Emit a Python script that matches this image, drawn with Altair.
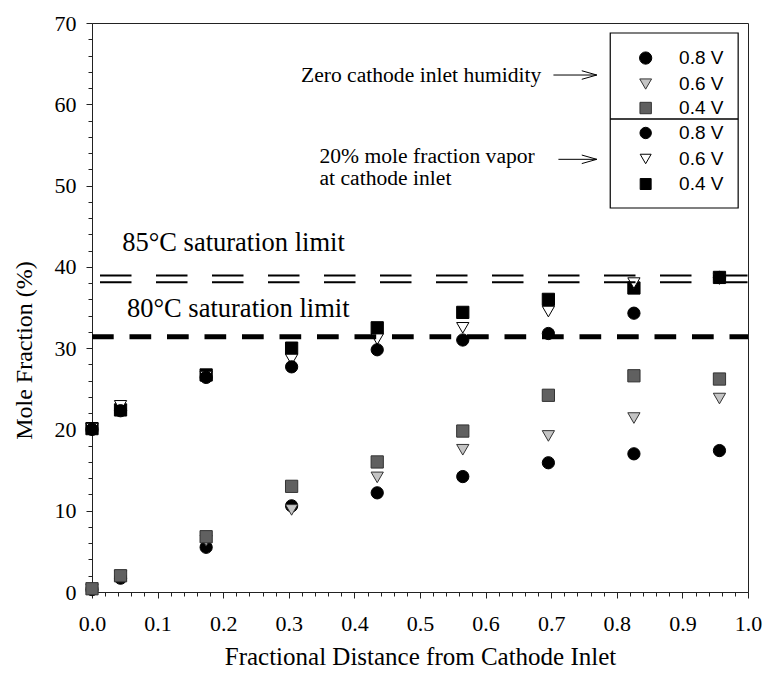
import altair as alt
import pandas as pd

# ---------------- data ----------------
x_pos = [0.0, 0.0435, 0.174, 0.3043, 0.4348, 0.5652, 0.6957, 0.8261, 0.9565]

# zero cathode inlet humidity
dry_08 = [0.3, 1.7, 5.5, 10.6, 12.2, 14.2, 15.9, 17.0, 17.4]
dry_06 = [0.3, 2.0, 6.3, 10.1, 14.1, 17.5, 19.2, 21.4, 23.8]
dry_04 = [0.4, 2.0, 6.8, 13.0, 16.0, 19.8, 24.2, 26.6, 26.2]

# 20% mole fraction vapor at cathode inlet
wet_08 = [20.0, 22.3, 26.4, 27.7, 29.8, 31.0, 31.8, 34.3, 38.7]
wet_06 = [20.1, 22.9, 26.5, 28.6, 31.1, 32.5, 34.5, 38.0, 38.5]
wet_04 = [20.1, 22.4, 26.7, 30.0, 32.5, 34.4, 36.0, 37.4, 38.7]

sat85 = [38.95, 38.1]   # double dashed line
sat80 = [31.4]

legend_labels = ["0.8 V", "0.6 V", "0.4 V", "0.8 V", "0.6 V", "0.4 V"]

y_ticks = list(range(0, 71, 2))
x_ticks = [round(i * 0.02, 2) for i in range(51)]

SERIF = "Liberation Serif"
SANS = "Liberation Sans"

xs = alt.Scale(domain=[0, 1], nice=False, zero=False)
ys = alt.Scale(domain=[0, 70], nice=False)

x_axis = alt.Axis(
    values=x_ticks,
    labelExpr="abs(datum.value*10 - round(datum.value*10)) < 0.001 ? format(datum.value, '.1f') : ''",
    tickSize={"condition": {"test": "abs(datum.value*10 - round(datum.value*10)) < 0.001", "value": 6}, "value": 4},
    title="Fractional Distance from Cathode Inlet",
    titleFont=SERIF, titleFontSize=25, titleFontWeight="normal", titleColor="black",
    titleY=72, titleBaseline="alphabetic",
    labelFont=SERIF, labelFontSize=22, labelColor="black", labelPadding=15,
    labelFlush=False, labelOverlap=False,
    grid=False, domainColor="#222", tickColor="#222",
)
y_axis = alt.Axis(
    values=y_ticks,
    labelExpr="datum.value % 10 === 0 ? datum.label : ''",
    tickSize={"condition": {"test": "datum.value % 10 === 0", "value": 6}, "value": 4},
    title="Mole Fraction (%)",
    titleFont=SERIF, titleFontSize=24, titleFontWeight="normal", titleColor="black",
    titleX=-61, titleY=327, titleBaseline="alphabetic", titleAngle=-90, titleAlign="center",
    labelFont=SERIF, labelFontSize=22, labelColor="black", labelPadding=10,
    labelFlush=False, labelOverlap=False,
    grid=False, domainColor="#222", tickColor="#222",
)


def X(f):
    return alt.X(f, type="quantitative", scale=xs, axis=x_axis)


def Y(f):
    return alt.Y(f, type="quantitative", scale=ys, axis=y_axis)


def series(vals, shape, fill, stroke, size):
    df = pd.DataFrame({"x": x_pos, "y": vals})
    return alt.Chart(df).mark_point(
        shape=shape, filled=True, fill=fill, stroke=stroke, strokeWidth=1,
        size=size, opacity=1,
    ).encode(x=X("x"), y=Y("y"))


def hline(yv, width, dash, offset):
    df = pd.DataFrame({"y": [yv], "x": [0.0], "x1": [1.0]})
    return alt.Chart(df).mark_rule(
        color="black", strokeWidth=width, strokeDash=dash, strokeDashOffset=offset
    ).encode(x=X("x"), x2="x1:Q", y=Y("y"))


layers = []
layers.append(series(dry_08, "circle", "black", "black", 150))
layers.append(series(dry_06, "triangle-down", "#c4c4c4", "#333", 150))
layers.append(series(dry_04, "square", "#606060", "#333", 150))
layers.append(series(wet_04, "square", "black", "black", 150))
layers.append(series(wet_06, "triangle-down", "white", "black", 150))
layers.append(series(wet_08, "circle", "black", "black", 150))

# saturation lines
for v in sat85:
    layers.append(hline(v, 2, [31.5, 24.5], 48))
for v in sat80:
    layers.append(hline(v, 5, [21.7, 15.8], 0))

# annotation texts
ann = pd.DataFrame({
    "x": [0.046, 0.0533],
    "y": [42.0, 33.87],
    "t": ["85°C saturation limit", "80°C saturation limit"],
})
layers.append(alt.Chart(ann).mark_text(
    font=SERIF, fontSize=26.5, align="left", baseline="alphabetic", color="black"
).encode(x=X("x"), y=Y("y"), text="t:N"))

ann2 = pd.DataFrame({
    "x": [0.3185, 0.3468, 0.3468],
    "y": [62.7, 52.74, 50.07],
    "t": ["Zero cathode inlet humidity", "20% mole fraction vapor", "at cathode inlet"],
})
layers.append(alt.Chart(ann2).mark_text(
    font=SERIF, fontSize=21.6, align="left", baseline="alphabetic", color="black"
).encode(x=X("x"), y=Y("y"), text="t:N"))

# arrows
arr = pd.DataFrame({"x": [0.7034, 0.711], "x1": [0.7695, 0.7695], "y": [63.6, 53.23]})
layers.append(alt.Chart(arr).mark_rule(color="black", strokeWidth=1).encode(
    x=X("x"), x2="x1:Q", y=Y("y")))
layers.append(alt.Chart(arr).mark_point(
    shape="M-2,-0.57L0,0L-2,0.57", filled=False, stroke="black", strokeWidth=1, size=225, opacity=1
).encode(x=X("x1"), y=Y("y")))

# legend box
box = pd.DataFrame({"x": [0.790], "x1": [0.985], "y": [47.24], "y1": [68.77]})
layers.append(alt.Chart(box).mark_rect(fill="white", stroke="black", strokeWidth=1.2).encode(
    x=X("x"), x2="x1:Q", y=Y("y"), y2="y1:Q"))
div = pd.DataFrame({"x": [0.790], "x1": [0.985], "y": [58.19]})
layers.append(alt.Chart(div).mark_rule(color="black", strokeWidth=1.5).encode(
    x=X("x"), x2="x1:Q", y=Y("y")))

leg_y = [65.69, 62.49, 59.54, 56.47, 53.27, 50.19]
leg_shape = ["circle", "triangle-down", "square", "circle", "triangle-down", "square"]
leg_fill = ["black", "#c4c4c4", "#606060", "black", "white", "black"]
leg_stroke = ["black", "#333", "#333", "black", "black", "black"]
leg_size = [150, 140, 130, 130, 120, 120]
for i in range(6):
    d = pd.DataFrame({"x": [0.844], "y": [leg_y[i]]})
    layers.append(alt.Chart(d).mark_point(
        shape=leg_shape[i], filled=True, fill=leg_fill[i], stroke=leg_stroke[i],
        strokeWidth=1, size=leg_size[i], opacity=1
    ).encode(x=X("x"), y=Y("y")))
legt = pd.DataFrame({"x": [0.895] * 6, "y": leg_y, "t": legend_labels})
layers.append(alt.Chart(legt).mark_text(
    font=SANS, fontSize=19, align="left", baseline="middle", color="black"
).encode(x=X("x"), y=Y("y"), text="t:N"))

chart = alt.layer(*layers).properties(
    width=656, height=569,
    autosize=alt.AutoSizeParams(type="none"),
    padding={"left": 92, "top": 23, "right": 16, "bottom": 83},
    background="white",
).configure_view(stroke="#222", strokeWidth=1)

chart.save("out.html", embed_options={"renderer": "svg", "actions": False})
